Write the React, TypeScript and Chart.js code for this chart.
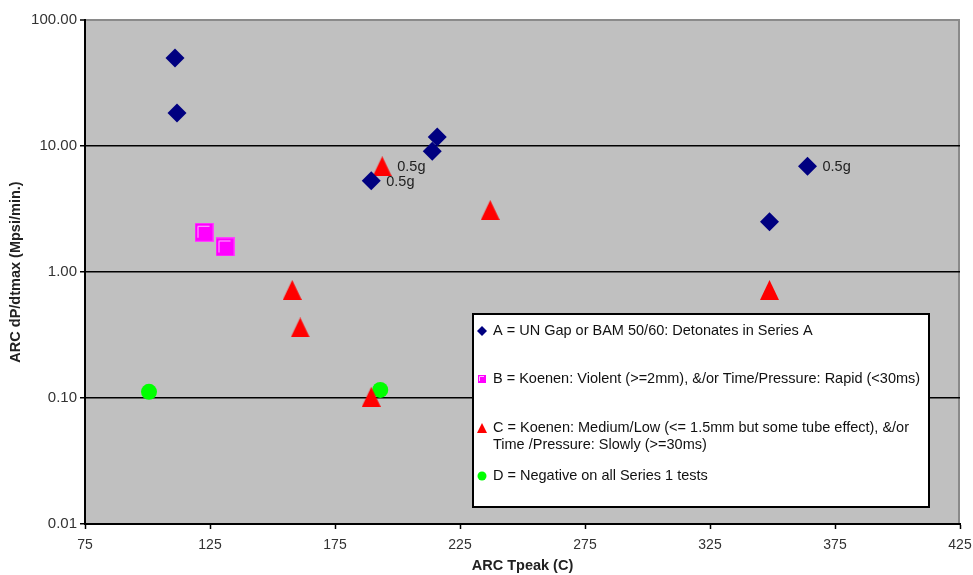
import React, { useEffect, useRef } from 'react';
import { Chart, registerables } from 'chart.js';

Chart.register(...registerables);

// ---- Data ----
const seriesATpeak = [111, 111.8, 189.5, 213.9, 215.9, 348.8, 364];
const seriesADpdt = [50, 18.3, 5.3, 9.1, 11.8, 2.5, 6.9];
const seriesALabels = ['', '', '0.5g', '', '', '', '0.5g'];

const seriesBTpeak = [122.6, 131];
const seriesBDpdt = [2.07, 1.58];

const seriesCTpeak = [193.9, 237.1, 157.9, 161.1, 189.5, 348.8];
const seriesCDpdt = [6.9, 3.1, 0.72, 0.363, 0.102, 0.72];
const seriesCLabels = ['0.5g', '', '', '', '', ''];

const seriesDTpeak = [100.6, 193.1];
const seriesDDpdt = [0.112, 0.116];

const yTickValues = [0.01, 0.1, 1, 10, 100];
const xTickValues = [75, 125, 175, 225, 275, 325, 375, 425];

const legendLabelA = ['A = UN Gap or BAM 50/60: Detonates in Series A'];
const legendLabelB = ['B = Koenen: Violent (>=2mm), &/or Time/Pressure: Rapid (<30ms)'];
const legendLabelC = ['C = Koenen: Medium/Low (<= 1.5mm but some tube effect), &/or', 'Time /Pressure: Slowly (>=30ms)'];
const legendLabelD = ['D = Negative on all Series 1 tests'];

const FONT = '"Liberation Sans", Arial, sans-serif';

const toPoints = (xs: number[], ys: number[]) => xs.map((x, i) => ({ x, y: ys[i] }));

function makeSquareImage(size: number): HTMLCanvasElement {
  const c = document.createElement('canvas');
  c.width = size;
  c.height = size;
  const g = c.getContext('2d')!;
  g.fillStyle = '#ff00ff';
  g.fillRect(0, 0, size, size);
  g.strokeStyle = '#ff40ff';
  g.lineWidth = 1;
  g.strokeRect(0.5, 0.5, size - 1, size - 1);
  g.strokeStyle = '#ffb8ff';
  g.beginPath();
  g.moveTo(3.5, size - 4);
  g.lineTo(3.5, 3.5);
  g.lineTo(size - 4, 3.5);
  g.stroke();
  return c;
}

function makeTriangleImage(w: number, h: number): HTMLCanvasElement {
  const c = document.createElement('canvas');
  c.width = w;
  c.height = h;
  const g = c.getContext('2d')!;
  g.fillStyle = '#ff0000';
  g.beginPath();
  g.moveTo(w / 2, 0);
  g.lineTo(w, h);
  g.lineTo(0, h);
  g.closePath();
  g.fill();
  return c;
}

function drawMarker(ctx: CanvasRenderingContext2D, style: string, x: number, y: number, r: number, fill: string) {
  ctx.save();
  ctx.fillStyle = fill;
  ctx.beginPath();
  if (style === 'diamond') {
    ctx.moveTo(x, y - r);
    ctx.lineTo(x + r, y);
    ctx.lineTo(x, y + r);
    ctx.lineTo(x - r, y);
    ctx.closePath();
  } else if (style === 'square') {
    ctx.rect(x - r, y - r, 2 * r, 2 * r);
  } else if (style === 'triangle') {
    ctx.moveTo(x, y - r);
    ctx.lineTo(x + r, y + r);
    ctx.lineTo(x - r, y + r);
    ctx.closePath();
  } else {
    ctx.arc(x, y, r, 0, Math.PI * 2);
  }
  ctx.fill();
  if (style === 'square') {
    ctx.strokeStyle = '#ffb8ff';
    ctx.lineWidth = 1;
    ctx.beginPath();
    ctx.moveTo(x - r + 1.5, y + r - 2);
    ctx.lineTo(x - r + 1.5, y - r + 1.5);
    ctx.lineTo(x + r - 2, y - r + 1.5);
    ctx.stroke();
  }
  ctx.restore();
}

const bgPlugin = {
  id: 'plotBg',
  beforeDraw(chart: any) {
    const { ctx, chartArea } = chart;
    ctx.save();
    ctx.fillStyle = '#c0c0c0';
    ctx.fillRect(chartArea.left, chartArea.top, chartArea.right - chartArea.left, chartArea.bottom - chartArea.top);
    ctx.strokeStyle = '#8a8a8a';
    ctx.lineWidth = 2;
    ctx.beginPath();
    ctx.moveTo(chartArea.right - 1, chartArea.top);
    ctx.lineTo(chartArea.right - 1, chartArea.bottom);
    ctx.stroke();
    ctx.restore();
  },
};

const labelPlugin = {
  id: 'pointLabels',
  afterDatasetsDraw(chart: any) {
    const { ctx } = chart;
    ctx.save();
    ctx.font = `14.5px ${FONT}`;
    ctx.fillStyle = '#222';
    ctx.textBaseline = 'middle';
    ctx.textAlign = 'left';
    chart.data.datasets.forEach((ds: any, i: number) => {
      const labels: string[] | undefined = ds.pointLabels;
      if (!labels) return;
      const meta = chart.getDatasetMeta(i);
      meta.data.forEach((el: any, j: number) => {
        if (labels[j]) ctx.fillText(labels[j], el.x + 15, el.y + 1);
      });
    });
    ctx.restore();
  },
};

const legendPlugin = {
  id: 'boxLegend',
  afterDraw(chart: any) {
    const { ctx } = chart;
    const left = 473, top = 314, right = 929, bottom = 507;
    ctx.save();
    ctx.fillStyle = '#ffffff';
    ctx.fillRect(left, top, right - left, bottom - top);
    ctx.strokeStyle = '#000';
    ctx.lineWidth = 2;
    ctx.strokeRect(left, top, right - left, bottom - top);
    ctx.font = `14.5px ${FONT}`;
    ctx.textBaseline = 'middle';
    ctx.textAlign = 'left';
    const entries: [string, string, string[], number][] = [
      ['diamond', '#000080', legendLabelA, 331],
      ['square', '#ff00ff', legendLabelB, 379],
      ['triangle', '#ff0000', legendLabelC, 428],
      ['circle', '#00ff00', legendLabelD, 476],
    ];
    entries.forEach(([style, color, lines, y]) => {
      const r = style === 'diamond' ? 5 : style === 'square' ? 4 : style === 'triangle' ? 5 : 4.5;
      drawMarker(ctx, style, 482, y, r, color);
      lines.forEach((t, k) => {
        ctx.fillStyle = '#111';
        ctx.fillText(t, 493, y + k * 17);
      });
    });
    ctx.restore();
  },
};

export default function App() {
  const canvasRef = useRef<HTMLCanvasElement | null>(null);

  useEffect(() => {
    if (!canvasRef.current) return;
    const squareImg = makeSquareImage(19);
    const triangleImg = makeTriangleImage(19, 20);
    const chart = new Chart(canvasRef.current, {
      type: 'scatter',
      data: {
        datasets: [
          {
            label: 'A',
            data: toPoints(seriesATpeak, seriesADpdt),
            pointStyle: 'rectRot',
            pointRadius: 9.5,
            pointHoverRadius: 9.5,
            backgroundColor: '#000080',
            borderColor: '#000080',
            borderWidth: 0,
            pointLabels: seriesALabels,
          } as any,
          {
            label: 'B',
            data: toPoints(seriesBTpeak, seriesBDpdt),
            pointStyle: squareImg,
            pointRadius: 10,
            pointHoverRadius: 10,
            backgroundColor: '#ff00ff',
            borderColor: '#ff00ff',
            borderWidth: 0,
          } as any,
          {
            label: 'C',
            data: toPoints(seriesCTpeak, seriesCDpdt),
            pointStyle: triangleImg,
            pointRadius: 10,
            pointHoverRadius: 10,
            backgroundColor: '#ff0000',
            borderColor: '#ff0000',
            borderWidth: 0,
            pointLabels: seriesCLabels,
          } as any,
          {
            label: 'D',
            data: toPoints(seriesDTpeak, seriesDDpdt),
            pointStyle: 'circle',
            pointRadius: 8,
            pointHoverRadius: 8,
            backgroundColor: '#00ff00',
            borderColor: '#00ff00',
            borderWidth: 0,
          } as any,
        ],
      },
      options: {
        responsive: false,
        animation: false,
        layout: { padding: { left: 0, top: 20, right: 13, bottom: 0 } },
        plugins: {
          legend: { display: false },
          tooltip: { enabled: false },
        },
        scales: {
          x: {
            type: 'linear',
            min: 75,
            max: 425,
            afterBuildTicks: (scale: any) => {
              scale.ticks = xTickValues.map((v) => ({ value: v }));
            },
            afterFit: (scale: any) => {
              scale.height = 51;
              scale.paddingRight = 0;
              scale.paddingLeft = 0;
            },
            grid: {
              drawOnChartArea: false,
              drawTicks: true,
              tickLength: 5,
              tickColor: '#000',
              tickWidth: 1.5,
            },
            border: { display: true, color: '#000', width: 2 },
            ticks: {
              color: '#333',
              font: { family: FONT, size: 14 },
              padding: 8,
              maxRotation: 0,
            },
            title: {
              display: true,
              text: 'ARC Tpeak (C)',
              color: '#222',
              font: { family: FONT, size: 14.5, weight: 'bold' },
              padding: { top: 0, bottom: 0 },
            },
          },
          y: {
            type: 'logarithmic',
            min: 0.01,
            max: 100,
            afterBuildTicks: (scale: any) => {
              scale.ticks = yTickValues.map((v) => ({ value: v }));
            },
            afterFit: (scale: any) => {
              scale.width = 85;
            },
            grid: {
              drawOnChartArea: true,
              drawTicks: true,
              tickLength: 5,
              tickColor: '#000',
              tickWidth: 1.5,
              lineWidth: (ctx: any) => (ctx.tick && ctx.tick.value === 100 ? 2 : 1.5),
              color: (ctx: any) => (ctx.tick && ctx.tick.value === 100 ? '#8a8a8a' : '#000'),
            },
            border: { display: true, color: '#000', width: 2 },
            ticks: {
              color: '#333',
              font: { family: FONT, size: 15 },
              padding: 3,
              callback: (v: any) => Number(v).toFixed(2),
            },
            title: {
              display: true,
              text: 'ARC dP/dtmax (Mpsi/min.)',
              color: '#222',
              font: { family: FONT, size: 14.5, weight: 'bold' },
              padding: { top: 7, bottom: 0 },
            },
          },
        },
      } as any,
      plugins: [bgPlugin, labelPlugin, legendPlugin],
    });
    return () => chart.destroy();
  }, []);

  return (
    <div style={{ position: 'absolute', left: 0, top: 0, width: 973, height: 575, background: '#fff' }}>
      <canvas ref={canvasRef} width={973} height={575} style={{ width: 973, height: 575 }} />
    </div>
  );
}
